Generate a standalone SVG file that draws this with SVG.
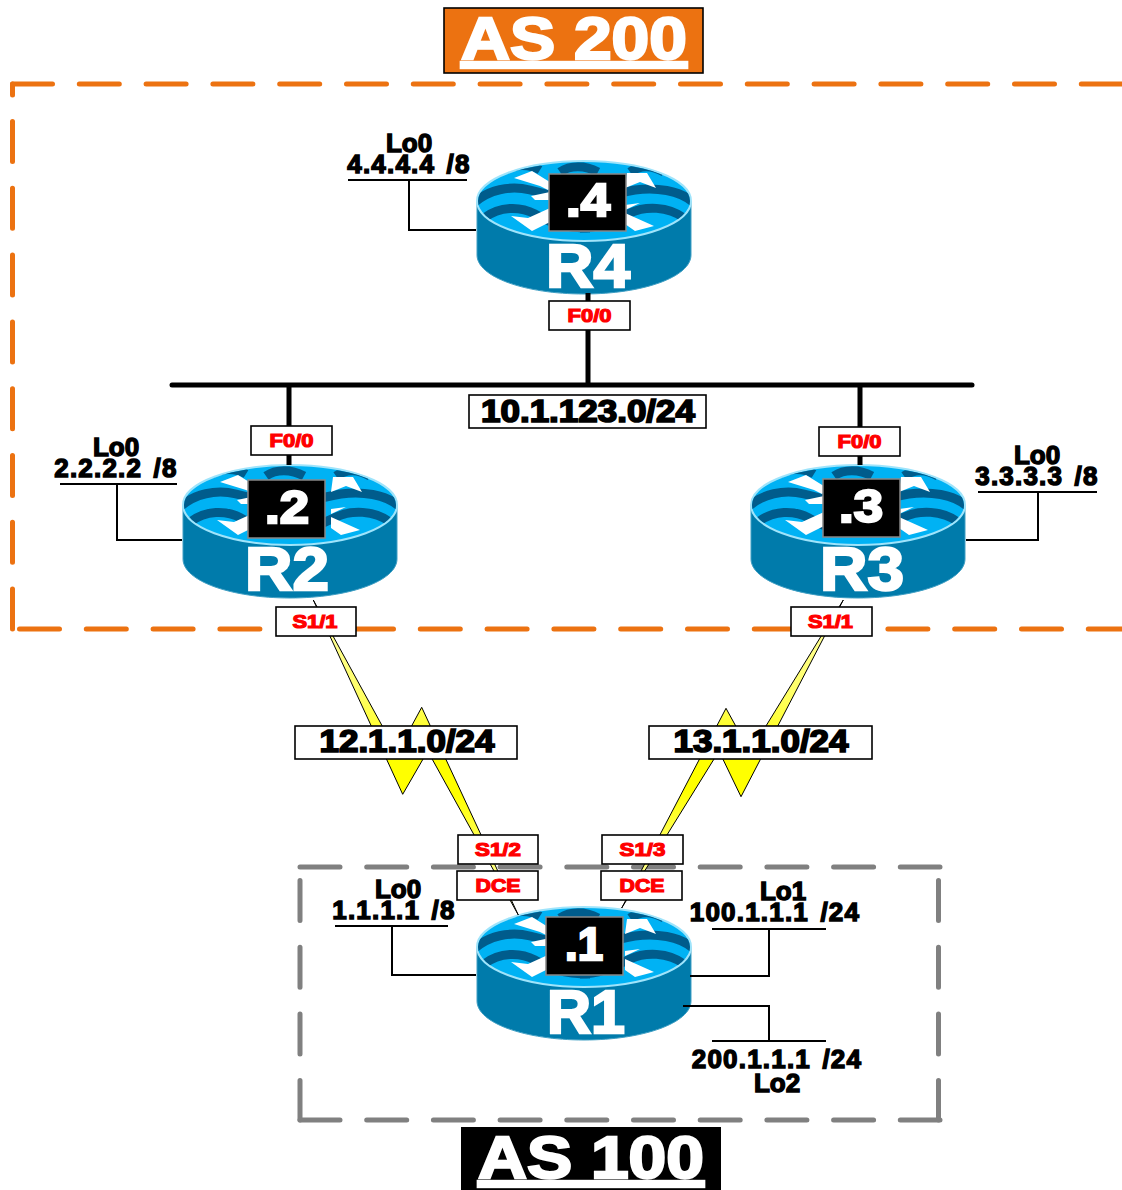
<svg xmlns="http://www.w3.org/2000/svg" width="1122" height="1190" viewBox="0 0 1122 1190">
<style>
text{font-family:"Liberation Sans",Arial,sans-serif;font-weight:700;text-anchor:middle}
.k{fill:#000;stroke:#000;stroke-width:1.7}
.lo{fill:#000;stroke:#000;stroke-width:1.4;font-size:26px}
.sp{word-spacing:3px;letter-spacing:1.2px}
.r{fill:#f00;stroke:#f00;stroke-width:1.2;font-size:19px}
.w{fill:#fff;stroke:#fff;stroke-width:2.4}
.box{fill:#fff;stroke:#000;stroke-width:1.6}
.l{fill:none;stroke:#000;stroke-width:2}
.bus{fill:none;stroke:#000;stroke-width:5}
.bolt{fill:url(#y);stroke:#000;stroke-width:1}
.as2{fill:none;stroke:#ec7211;stroke-width:5;stroke-linecap:round;stroke-dasharray:40 26.8}
.as1{fill:none;stroke:#808080;stroke-width:5;stroke-linecap:round;stroke-dasharray:40 26.7}
.solid{stroke-dasharray:none}
.wave{fill:none;stroke:#005c8c;stroke-width:9}
.tag{fill:#000;stroke:#888;stroke-width:1.5}
</style>
<defs>
<linearGradient id="y" x1="0" y1="0" x2="0" y2="1"><stop offset="0" stop-color="#ffffaa"/><stop offset=".3" stop-color="#ffff66"/><stop offset=".5" stop-color="#ffff00"/><stop offset=".62" stop-color="#ffff00"/><stop offset=".8" stop-color="#ffff66"/><stop offset="1" stop-color="#ffffaa"/></linearGradient>
<clipPath id="top"><ellipse cx="584" cy="201" rx="106" ry="39"/></clipPath>
<g id="router">
<path d="M477 201V255C477 277 525 294 584 294S691 277 691 255V201Z" fill="#007bab" stroke="#3f9fc4" stroke-width="1"/>
<ellipse cx="584" cy="201" rx="107" ry="40" fill="#00b2f4" stroke="#9fe4fb" stroke-width="2"/>
<g clip-path="url(#top)">
<path class="wave" d="M474 203C488 190 510 185 530 190S555 198 590 196"/>
<path class="wave" d="M484 218C500 206 520 206 535 214S560 228 590 228"/>
<path class="wave" d="M694 203C680 190 655 187 635 190S610 198 580 196"/>
<path class="wave" d="M684 218C668 206 645 206 630 213S600 228 580 228"/>
<path class="wave" d="M560 172C570 165 585 165 598 172M630 172C640 165 652 165 664 172"/>
<path class="wave" d="M505 170C515 164 530 164 540 170"/>
</g>
<path fill="#fff" d="M514 178L532 171L553 184L548 190L540 186ZM531 196L550 192V200L535 200ZM511 216L528 218L550 208V222L532 231ZM627 173H647L656 188L640 182L625 188ZM625 213L654 226L635 231L625 224ZM625 205L640 203L625 210Z"/>
</g>
</defs>

<g id="as200-boundary">
<path class="as2" d="M12.500 84H1122"/>
<path class="as2 solid" d="M12.500 84V95"/>
<path class="as2" d="M12.500 121.500V629"/>
<path class="as2" d="M19.500 629H1122"/>
</g>
<g id="as100-boundary">
<path class="as1" d="M300 867H940"/>
<path class="as1" d="M300 880.500V1120"/>
<path class="as1" d="M938.500 880.500V1120"/>
<path class="as1" d="M300 1120H940"/>
</g>
<g id="as200-title"><rect x="444" y="8" width="259" height="65" fill="#ec7211" stroke="#000" stroke-width="1.6"/><text x="574" y="59" class="w" font-size="60" text-decoration="underline" textLength="226" lengthAdjust="spacingAndGlyphs">AS 200</text></g>
<g id="as100-title"><rect x="461" y="1127" width="260" height="63" fill="#000"/><text x="591" y="1178" class="w" font-size="60" text-decoration="underline" textLength="226" lengthAdjust="spacingAndGlyphs">AS 100</text></g>

<g id="R4"><use href="#router"/><rect class="tag" x="549" y="174" width="77" height="57"/><text x="588" y="216" class="w" font-size="46" textLength="44" lengthAdjust="spacingAndGlyphs">.4</text><text x="588" y="287" class="w" font-size="62" textLength="84" lengthAdjust="spacingAndGlyphs">R4</text></g>
<g id="R2"><use href="#router" x="-294" y="304"/><rect class="tag" x="248" y="480" width="77" height="58"/><text x="287" y="523" class="w" font-size="46" textLength="44" lengthAdjust="spacingAndGlyphs">.2</text><text x="287" y="590" class="w" font-size="62" textLength="84" lengthAdjust="spacingAndGlyphs">R2</text></g>
<g id="R3"><use href="#router" x="274" y="304"/><rect class="tag" x="823" y="479" width="77" height="58"/><text x="861" y="522" class="w" font-size="46" textLength="44" lengthAdjust="spacingAndGlyphs">.3</text><text x="862" y="590" class="w" font-size="62" textLength="84" lengthAdjust="spacingAndGlyphs">R3</text></g>
<g id="R1"><use href="#router" y="746"/><rect class="tag" x="546" y="917" width="77" height="58"/><text x="584" y="960" class="w" font-size="46" textLength="38" lengthAdjust="spacingAndGlyphs">.1</text><text x="586" y="1033" class="w" font-size="62" textLength="78" lengthAdjust="spacingAndGlyphs">R1</text></g>

<g id="connectors">
<path class="bus" d="M588 293V385"/>
<path class="bus" stroke-linecap="round" d="M172 385H972"/>
<path class="bus" d="M289 385V465M860 385V465"/>
<path class="bolt" d="M313.300 600L402.700 794.300L427.700 751L518.300 915L421.700 707.300L397 753Z"/>
<path class="bolt" d="M843.300 600L741 796.700L719 751L621.700 908L726 708.300L750 752Z"/>
<path class="l" d="M348 180H467M409 180V230H476"/>
<path class="l" d="M60 484H177M117 484V540H182"/>
<path class="l" d="M978 492H1097M1038 492V540H966"/>
<path class="l" d="M335 926H448M392 926V975H476"/>
<path class="l" d="M712 929H826M769 929V976H690"/>
<path class="l" d="M712 1041H826M769 1041V1006H683"/>
</g>

<g id="labels">
<g><rect class="box" x="549" y="301" width="81" height="29"/><text x="589.500" y="322" class="r" textLength="44" lengthAdjust="spacingAndGlyphs">F0/0</text></g>
<g><rect class="box" x="251" y="426" width="81" height="29"/><text x="291.500" y="446.500" class="r" textLength="44" lengthAdjust="spacingAndGlyphs">F0/0</text></g>
<g><rect class="box" x="819" y="427" width="81" height="29"/><text x="859.500" y="447.500" class="r" textLength="44" lengthAdjust="spacingAndGlyphs">F0/0</text></g>
<g><rect class="box" x="276" y="607" width="80" height="29"/><text x="315" y="628" class="r" textLength="45" lengthAdjust="spacingAndGlyphs">S1/1</text></g>
<g><rect class="box" x="791" y="607" width="81" height="29"/><text x="830.500" y="628" class="r" textLength="45" lengthAdjust="spacingAndGlyphs">S1/1</text></g>
<g><rect class="box" x="458" y="835" width="80" height="29"/><text x="498" y="856" class="r" textLength="46" lengthAdjust="spacingAndGlyphs">S1/2</text></g>
<g><rect class="box" x="457" y="871" width="81" height="29"/><text x="498" y="892" class="r" textLength="45" lengthAdjust="spacingAndGlyphs">DCE</text></g>
<g><rect class="box" x="602" y="835" width="81" height="29"/><text x="642.500" y="856" class="r" textLength="46" lengthAdjust="spacingAndGlyphs">S1/3</text></g>
<g><rect class="box" x="601" y="871" width="81" height="29"/><text x="642" y="892" class="r" textLength="45" lengthAdjust="spacingAndGlyphs">DCE</text></g>
<g><rect class="box" x="469" y="395" width="237" height="33"/><text x="588" y="422" class="k" font-size="31" textLength="214" lengthAdjust="spacingAndGlyphs">10.1.123.0/24</text></g>
<g><rect class="box" x="295" y="726" width="222" height="33"/><text x="407" y="752" class="k" font-size="31" textLength="175" lengthAdjust="spacingAndGlyphs">12.1.1.0/24</text></g>
<g><rect class="box" x="649" y="726" width="223" height="33"/><text x="761" y="752" class="k" font-size="31" textLength="175" lengthAdjust="spacingAndGlyphs">13.1.1.0/24</text></g>
<text class="lo"><tspan x="409" y="152">Lo0</tspan><tspan class="sp" x="409" y="173">4.4.4.4 /8</tspan></text>
<text class="lo"><tspan x="116" y="456">Lo0</tspan><tspan class="sp" x="116" y="477">2.2.2.2 /8</tspan></text>
<text class="lo"><tspan x="1037" y="464">Lo0</tspan><tspan class="sp" x="1037" y="485">3.3.3.3 /8</tspan></text>
<text class="lo"><tspan x="398" y="898">Lo0</tspan><tspan class="sp" x="394" y="919">1.1.1.1 /8</tspan></text>
<text class="lo"><tspan x="783" y="900">Lo1</tspan><tspan class="sp" x="775" y="921">100.1.1.1 /24</tspan></text>
<text class="lo"><tspan class="sp" x="777" y="1068">200.1.1.1 /24</tspan><tspan x="777" y="1092">Lo2</tspan></text>
</g>
</svg>
